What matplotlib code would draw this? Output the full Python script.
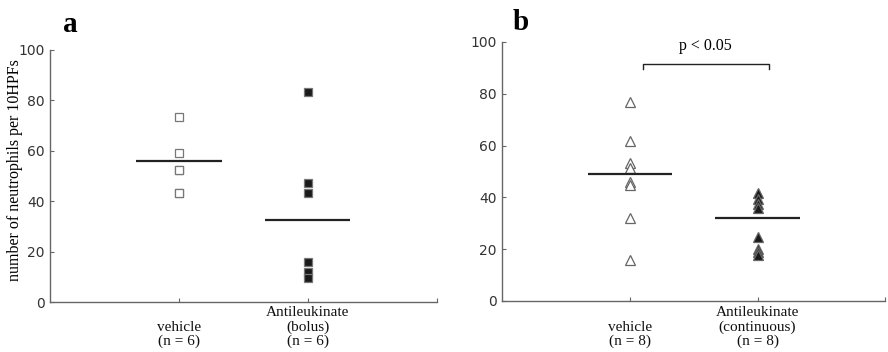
import matplotlib
matplotlib.use("Agg")
import matplotlib.pyplot as plt
import matplotlib.transforms as mtransforms
import numpy as np

# Панель a: болюсное введение
labels_a = ["vehicle\n(n = 6)", "Antileukinate\n(bolus)\n(n = 6)"]
vehicle_a = [73.5, 59.2, 52.4, 52.4, 43.4, 43.4]
drug_a = [83.5, 47.3, 43.4, 16.0, 12.0, 9.4]
means_a = [55.8, 32.5]

# Панель b: непрерывное введение
labels_b = ["vehicle\n(n = 8)", "Antileukinate\n(continuous)\n(n = 8)"]
vehicle_b = [76.9, 61.9, 53.2, 51.2, 46.1, 44.8, 31.9, 15.8]
drug_b = [41.6, 39.3, 37.6, 35.9, 24.7, 20.2, 19.0, 17.8]
means_b = [49.0, 31.9]

y_ticks = [0, 20, 40, 60, 80, 100]
bracket = (1.1, 2.09, 91.4, 89.4)
p_text = "p < 0.05"

serif = "Liberation Serif"
tick_color = "#333333"
spine_color = "#666666"

fig = plt.figure(figsize=(8.88, 3.52), dpi=100)
ax_a = fig.add_axes([0.0563, 0.142, 0.4357, 0.716])
ax_b = fig.add_axes([0.5653, 0.145, 0.4317, 0.736])


def style_axes(ax, labels):
    ax.set_xlim(0, 3)
    ax.set_ylim(0, 100)
    for side in ("top", "right"):
        ax.spines[side].set_visible(False)
    for side in ("left", "bottom"):
        ax.spines[side].set_color(spine_color)
        ax.spines[side].set_linewidth(1.0)
    ax.set_yticks(y_ticks)
    ax.set_yticklabels([str(t) for t in y_ticks], fontsize=10, color=tick_color,
                       family="DejaVu Sans")
    ax.set_xticks([1, 2, 3])
    ax.set_xticklabels(["", "", ""])
    ax.tick_params(direction="in", length=3, width=0.8, color=spine_color)
    ax.tick_params(axis="y", pad=4)
    trans = mtransforms.blended_transform_factory(ax.transData, fig.transFigure)
    for i, lab in enumerate(labels):
        ax.text(i + 1, 0.01, lab, transform=trans, ha="center", va="bottom",
                family=serif, fontsize=11, linespacing=1.12, color="#111111")


def draw_group(ax, x, values, mean, marker, size, face, edge):
    ax.plot([x] * len(values), values, linestyle="none", marker=marker,
            markersize=size, markerfacecolor=face, markeredgecolor=edge,
            markeredgewidth=0.9, clip_on=False)
    ax.plot([x - 0.33, x + 0.33], [mean, mean], color="#222222", lw=1.6,
            solid_capstyle="butt")


# Панель a
style_axes(ax_a, labels_a)
draw_group(ax_a, 1, vehicle_a, means_a[0], "s", 5.8, "white", "#777777")
draw_group(ax_a, 2, drug_a, means_a[1], "s", 5.8, "#1a1a1a", "#777777")
ax_a.set_ylabel("number of neutrophils per 10HPFs", family=serif, fontsize=11.5)
ax_a.yaxis.set_label_coords(-0.07, 0.524)
fig.text(0.079, 0.93, "a", family=serif, fontweight="bold", fontsize=21,
         ha="center", va="center")

# Панель b
style_axes(ax_b, labels_b)
draw_group(ax_b, 1, vehicle_b, means_b[0], "^", 7, "white", "#666666")
draw_group(ax_b, 2, drug_b, means_b[1], "^", 7, "#1a1a1a", "#666666")
x0, x1, y_top, y_end = bracket
ax_b.plot([x0, x0, x1, x1], [y_end, y_top, y_top, y_end], color="#222222",
          lw=1.0, clip_on=False)
ax_b.text((x0 + x1) / 2, 98.5, p_text, ha="center", va="center",
          family=serif, fontsize=11.5)
fig.text(0.586, 0.935, "b", family=serif, fontweight="bold", fontsize=21,
         ha="center", va="center")

fig.savefig("out.png", dpi=100)
